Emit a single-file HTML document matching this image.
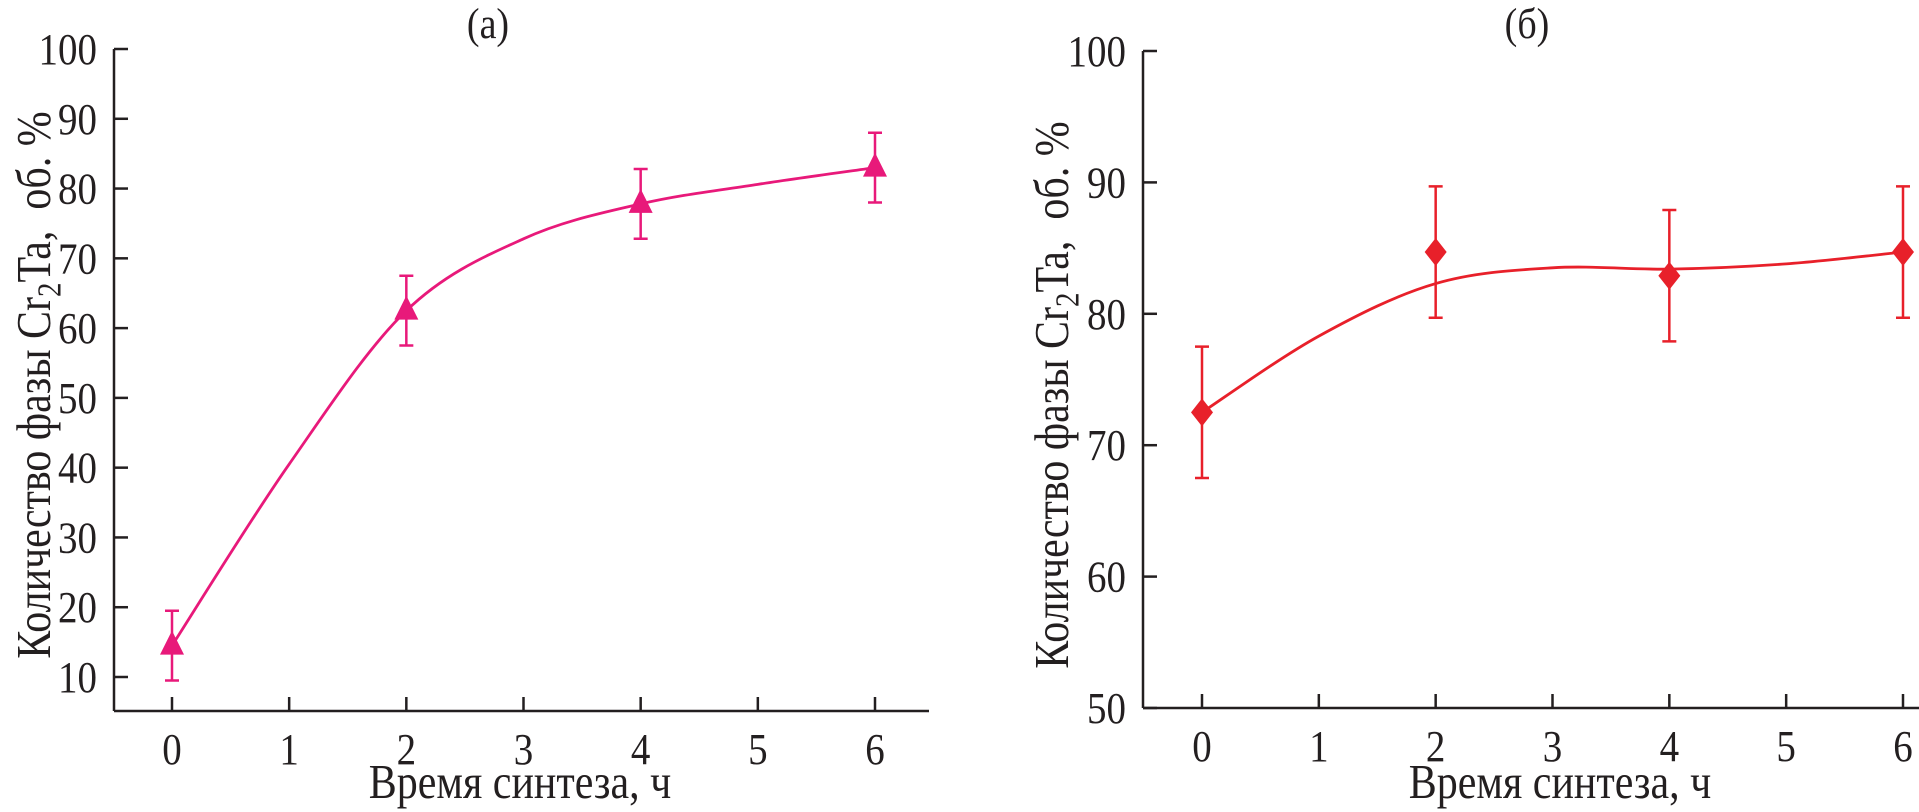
<!DOCTYPE html>
<html><head><meta charset="utf-8">
<style>
html,body{margin:0;padding:0;background:#fff;}
svg{display:block;font-family:"Liberation Serif","DejaVu Serif",serif;}
</style></head>
<body>
<svg id="chart" width="1919" height="812" viewBox="0 0 1919 812" xmlns="http://www.w3.org/2000/svg"></svg>
<script>
const xCategories = [0, 1, 2, 3, 4, 5, 6];
const xTickLabels = ["0","1","2","3","4","5","6"];
const measuredX = [0, 2, 4, 6];
const seriesA = [14.5, 62.5, 77.8, 83.0];
const errorA = [5, 5, 5, 5];
const fitA = [14.5, 40.5, 62.5, 72.8, 77.8, 80.6, 83.0];
const yTicksA = [10, 20, 30, 40, 50, 60, 70, 80, 90, 100];
const seriesB = [72.5, 84.7, 82.9, 84.7];
const errorB = [5, 5, 5, 5];
const fitB = [72.5, 78.3, 82.3, 83.5, 83.4, 83.8, 84.7];
const yTicksB = [50, 60, 70, 80, 90, 100];

const NS = "http://www.w3.org/2000/svg";
const svg = document.getElementById("chart");
const STRETCH = 1.15;
function mk(tag, attrs, parent){
  const e = document.createElementNS(NS, tag);
  for (const k in attrs) e.setAttribute(k, attrs[k]);
  (parent || svg).appendChild(e);
  return e;
}
function txt(parent, x, y, anchor, size, str){
  const t = mk("text", {x:0, y:0, "text-anchor":anchor, "font-size":size, fill:"#231f20",
    transform:`translate(${x},${y}) scale(1,${STRETCH})`}, parent);
  t.textContent = str;
  return t;
}

function drawPanel(cfg){
  const g = mk("g", {});
  
  
  const sx = v => cfg.x0 + (v - 0) * (cfg.x6 - cfg.x0) / 6;
  const sy = v => cfg.yBot + (v - cfg.yMin) * (cfg.yTop - cfg.yBot) / (cfg.yMax - cfg.yMin);

  const yAxis = mk("line", {x1:cfg.axX, y1:cfg.yTop, x2:cfg.axX, y2:cfg.axY, stroke:"#231f20", "stroke-width":2.5}, g);
  
  
  const xAxis = mk("line", {x1:cfg.axX, y1:cfg.axY, x2:cfg.axRight, y2:cfg.axY, stroke:"#231f20", "stroke-width":2.5}, g);
  
  

  cfg.yTicks.forEach(t => {
    const y = sy(t);
    const tk = mk("line", {x1:cfg.axX, y1:y, x2:cfg.axX+14, y2:y, stroke:"#231f20", "stroke-width":2.5}, g);
    
    
    const lb = txt(g, cfg.axX-17, y+15, "end", 39, String(t));
    
    
  });
  xCategories.forEach((c, i) => {
    const x = sx(c);
    const tk = mk("line", {x1:x, y1:cfg.axY, x2:x, y2:cfg.axY-14, stroke:"#231f20", "stroke-width":2.5}, g);
    
    
    const lb = txt(g, x, cfg.axY+53, "middle", 39, xTickLabels[i]);
    
    
  });

  const pts = xCategories.map((c, i) => [sx(c), sy(cfg.fit[i])]);
  let d = "M" + pts[0][0] + "," + pts[0][1];
  for (let i = 0; i < pts.length - 1; i++){
    const p0 = pts[Math.max(0,i-1)], p1 = pts[i], p2 = pts[i+1], p3 = pts[Math.min(pts.length-1,i+2)];
    const c1 = [p1[0] + (p2[0]-p0[0])/6, p1[1] + (p2[1]-p0[1])/6];
    const c2 = [p2[0] - (p3[0]-p1[0])/6, p2[1] - (p3[1]-p1[1])/6];
    d += " C" + c1[0] + "," + c1[1] + " " + c2[0] + "," + c2[1] + " " + p2[0] + "," + p2[1];
  }
  const curve = mk("path", {d:d, fill:"none", stroke:cfg.color, "stroke-width":2.8}, g);
  
  

  measuredX.forEach((c, i) => {
    const x = sx(c), y = sy(cfg.values[i]);
    const yh = sy(cfg.values[i] + cfg.err[i]), yl = sy(cfg.values[i] - cfg.err[i]);
    const eb = mk("path", {d:`M${x},${yh}V${yl}M${x-7},${yh}H${x+7}M${x-7},${yl}H${x+7}`, fill:"none", stroke:cfg.color, "stroke-width":2.5}, g);
    
    
    let m;
    if (cfg.marker === "tri"){
      m = mk("polygon", {points:`${x},${y-15} ${x-12},${y+9} ${x+12},${y+9}`, fill:cfg.color}, g);
    } else {
      m = mk("polygon", {points:`${x},${y-14} ${x+11},${y} ${x},${y+14} ${x-11},${y}`, fill:cfg.color}, g);
    }
    
    
  });

  const tt = txt(g, cfg.titleX, 38, "middle", 38, cfg.title);
  
  

  const xl = txt(g, cfg.xLabelX, 798, "middle", 42, "Время синтеза, ч");
  
  

  const yl = mk("text", {x:0, y:0, "text-anchor":"middle", "font-size":42, fill:"#231f20", "xml:space":"preserve",
    transform:`translate(${cfg.yLabelX},${cfg.yLabelY}) rotate(-90) scale(1,${STRETCH})`}, g);
  
  
  yl.setAttribute('style', 'white-space:pre');
  const s1 = mk("tspan", {}, yl); s1.textContent = "Количество фазы Cr";
  const s2 = mk("tspan", {"font-size":29, dy:9}, yl); s2.textContent = "2";
  const s3 = mk("tspan", {dy:-9}, yl); s3.textContent = "Ta,  об. %";
}

drawPanel({name:"panel-a", x0:172, x6:875, yMin:10, yMax:100, yBot:677, yTop:49, axX:114, axY:711, axRight:929,
  yTicks:yTicksA, fit:fitA, values:seriesA, err:errorA, color:"#e8197a", marker:"tri",
  title:"(a)", titleX:488, xLabelX:520, yLabelX:50, yLabelY:385});
drawPanel({name:"panel-b", x0:1202, x6:1903, yMin:50, yMax:100, yBot:708, yTop:51, axX:1143, axY:708, axRight:1919,
  yTicks:yTicksB, fit:fitB, values:seriesB, err:errorB, color:"#e8202a", marker:"dia",
  title:"(б)", titleX:1527, xLabelX:1560, yLabelX:1068, yLabelY:395});
</script>
</body></html>
